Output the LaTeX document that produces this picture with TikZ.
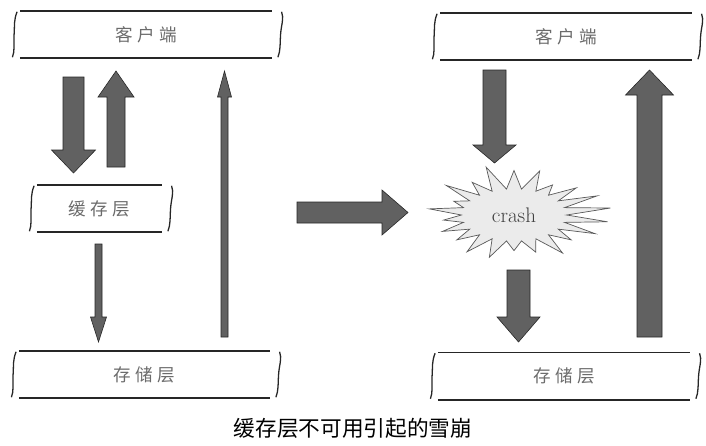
\documentclass[tikz,border=0pt]{standalone}
\usepackage{fontspec}
\newfontfamily\cjk{Noto Sans CJK SC}
\newfontfamily\cjkwide[LetterSpace=25]{Noto Sans CJK SC}
\usetikzlibrary{calc, shapes.symbols}

\tikzset{
  layer/.style={minimum width=#1, minimum height=1.41cm, inner sep=0pt,
    text=black!58, font=\cjkwide\fontsize{15}{15}\selectfont},
  rim/.style={line width=1.3pt, black!85},
  curl/.style={line width=1.1pt, black!85},
  fat/.style={fill=black!62, draw=black!85, line width=0.5pt},
  % block arrow: half shaft, half head, head length
  fatarrow/.style n args={3}{to path={
    ($(\tikztostart)!#1!90:(\tikztotarget)$)
    -- ($(\tikztotarget)!#3!(\tikztostart)!#1!-90:(\tikztostart)$)
    -- ($(\tikztotarget)!#3!(\tikztostart)!#2!-90:(\tikztostart)$)
    -- (\tikztotarget)
    -- ($(\tikztotarget)!#3!(\tikztostart)!#2!90:(\tikztostart)$)
    -- ($(\tikztotarget)!#3!(\tikztostart)!#1!90:(\tikztostart)$)
    -- ($(\tikztostart)!#1!-90:(\tikztotarget)$)
    -- cycle}},
}

\begin{document}
\begin{tikzpicture}[x=0.03cm, y=-0.03cm]
    \useasboundingbox (0,0) rectangle (706,445);
    % layers
    \node[layer=7.56cm] (cliL) at (146,34.5) {客户端};
    \node[layer=3.75cm] (cacL) at (99.5,208.5) {缓存层};
    \node[layer=7.53cm] (stoL) at (144.5,374.5) {存储层};
    \node[layer=7.56cm] (cliR) at (566,36.5) {客户端};
    \node[layer=7.56cm] (stoR) at (564,376) {存储层};
    % burst, stretched sideways
    \node[starburst, starburst points=22, starburst point height=0.74cm,
          random starburst=11, minimum width=3.1cm, minimum height=3.05cm,
          xscale=1.95, transform shape,
          fill=black!8, draw=black!65, line width=0.6pt] (burst) at (514,215) {};
    \node[text=black!75, font=\fontsize{18}{18}\selectfont] (crash) at (burst.center) {crash};
    \node[font=\cjk\fontsize{18.5}{18.5}\selectfont] (cap) at (353,428) {缓存层不可用引起的雪崩};
    \foreach \n in {cliL, cacL, stoL, cliR, stoR} {
        \draw[rim] (\n.north west) -- (\n.north east) (\n.south west) -- (\n.south east);
        \draw[curl] ([xshift=-0.08cm,yshift=-0.03cm]\n.north west)
            .. controls +(-0.1cm,-0.25cm) and +(0.02cm,0.3cm) .. ([xshift=-0.17cm]\n.west)
            .. controls +(-0.02cm,-0.3cm) and +(0.08cm,0.2cm) .. ([xshift=-0.22cm,yshift=0.03cm]\n.south west);
        \draw[curl] ([xshift=0.28cm,yshift=-0.03cm]\n.north east)
            .. controls +(0.08cm,-0.2cm) and +(0.02cm,0.3cm) .. ([xshift=0.25cm]\n.east)
            .. controls +(-0.02cm,-0.3cm) and +(0.08cm,0.2cm) .. ([xshift=0.17cm,yshift=0.03cm]\n.south east);
    }
    % arrow ends
    \coordinate (a1s) at (73.5,77);   \coordinate (a1t) at (73.5,173);
    \coordinate (a2s) at (116,167);   \coordinate (a2t) at (116,71);
    \coordinate (a3s) at (224.5,337); \coordinate (a3t) at (224.5,71);
    \coordinate (a4s) at (98.5,244);  \coordinate (a4t) at (98.5,342);
    \coordinate (mids) at (297,212.5); \coordinate (midt) at (408,212.5);
    \coordinate (b1s) at (494.5,70);  \coordinate (b1t) at (494.5,163);
    \coordinate (b2s) at (518.5,270); \coordinate (b2t) at (518.5,342);
    \coordinate (b3s) at (649.5,337); \coordinate (b3t) at (649.5,70);
    \draw[fat] (a1s) to[fatarrow={0.315cm}{0.66cm}{0.69cm}] (a1t);
    \draw[fat] (a2s) to[fatarrow={0.27cm}{0.54cm}{0.78cm}] (a2t);
    \draw[fat] (a3s) to[fatarrow={0.105cm}{0.21cm}{0.78cm}] (a3t);
    \draw[fat] (a4s) to[fatarrow={0.105cm}{0.24cm}{0.75cm}] (a4t);
    \draw[fat] (mids) to[fatarrow={0.315cm}{0.675cm}{0.78cm}] (midt);
    \draw[fat] (b1s) to[fatarrow={0.345cm}{0.645cm}{0.54cm}] (b1t);
    \draw[fat] (b2s) to[fatarrow={0.345cm}{0.645cm}{0.75cm}] (b2t);
    \draw[fat] (b3s) to[fatarrow={0.375cm}{0.72cm}{0.75cm}] (b3t);
\end{tikzpicture}
\end{document}
